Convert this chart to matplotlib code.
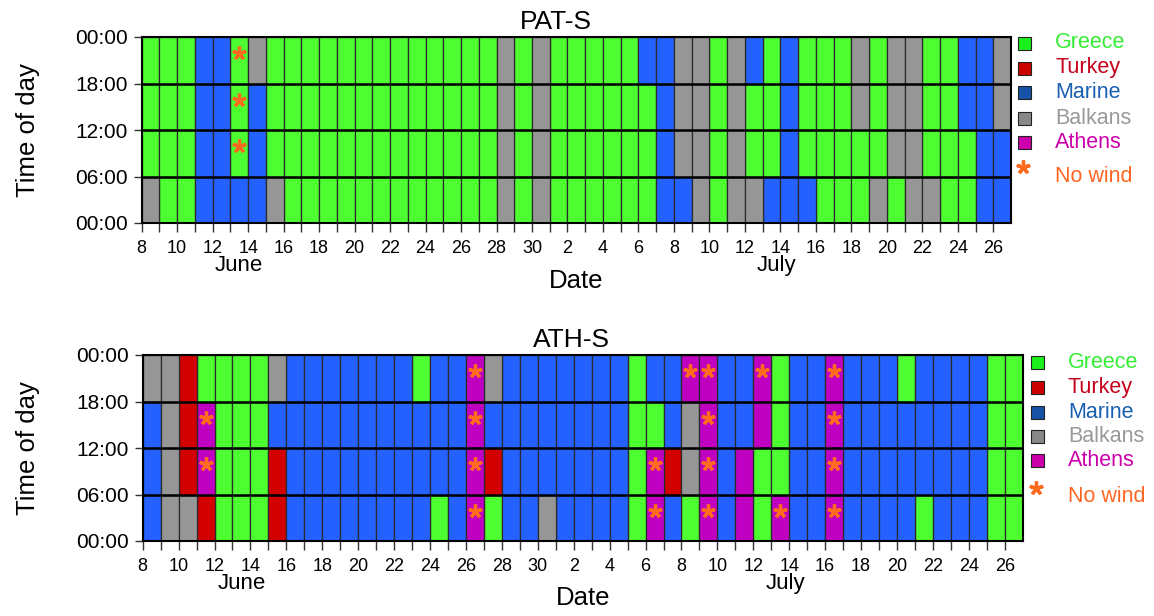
import matplotlib
matplotlib.use('Agg')
import matplotlib.pyplot as plt
from matplotlib.patches import Rectangle
from matplotlib.lines import Line2D

plt.rcParams['font.family'] = ['Liberation Sans', 'DejaVu Sans']

# days on the x axis: 8-30 June, then 1-26 July
june_days = list(range(8, 31))
july_days = list(range(1, 27))
day_labels = june_days + july_days

hour_labels = ['00:00', '06:00', '12:00', '18:00', '00:00']

# air mass origin for each 6-hour block, one letter per day
# G = Greece, T = Turkey, M = Marine, B = Balkans, A = Athens
pat_00 = "BGGMMMMB" "GGGGGGGGGGGG" "BGB" "GGGGGGMMBGBBMMMGGGBGBBGGMM"
pat_06 = "GGGMMGMG" "GGGGGGGGGGGG" "BGB" "GGGGGGMBBGBGGMGGGGGBBGGGMM"
pat_12 = "GGGMMGMG" "GGGGGGGGGGGG" "BGB" "GGGGGGMBBGBGGMGGGBGBBGGMMB"
pat_18 = "GGGMMGBG" "GGGGGGGGGGGG" "BGB" "GGGGGMMBBGBMGMGGGBGBBGGMMB"

ath_00 = "MBBTGGGT" "MMMMMMMM" "GMAGMMB" "MMMMGAMGAMAGAMMA" "MMMMGMMMGG"
ath_06 = "MBTAGGGT" "MMMMMMMMMM" "ATMMM" "MMMMGATBAMAGGMMA" "MMMMMMMMGG"
ath_12 = "MBTAGGGM" "MMMMMMMMMM" "AMMMM" "MMMMGGMBAMMAGMMA" "MMMMMMMMGG"
ath_18 = "BBTGGGGB" "MMMMMMM" "GMMABMMM" "MMMMGMMAAMMAGMMAMMMGMMMMGG"

# no-wind blocks: (month, day, block) with block 0 = 00-06 ... 3 = 18-24
pat_calm = [('Jun', 13, 1), ('Jun', 13, 2), ('Jun', 13, 3)]
ath_calm = [('Jun', 11, 1), ('Jun', 11, 2),
            ('Jun', 26, 0), ('Jun', 26, 1), ('Jun', 26, 2), ('Jun', 26, 3),
            ('Jul', 6, 0), ('Jul', 6, 1), ('Jul', 8, 3),
            ('Jul', 9, 0), ('Jul', 9, 1), ('Jul', 9, 2), ('Jul', 9, 3),
            ('Jul', 12, 3), ('Jul', 13, 0),
            ('Jul', 16, 0), ('Jul', 16, 1), ('Jul', 16, 2), ('Jul', 16, 3)]

region_codes = ['G', 'T', 'M', 'B', 'A']
region_names = ['Greece', 'Turkey', 'Marine', 'Balkans', 'Athens']
cell_colors = ['#4dff30', '#d20000', '#2461ff', '#969696', '#c000c0']
key_colors = ['#1cf01c', '#cc0000', '#1552a8', '#888888', '#cc00aa']
name_colors = ['#33ee33', '#c4001c', '#1a5fb0', '#999999', '#cc00aa']
calm_color = '#ff6a1f'

W, H = 1154, 616


def day_index(month, day):
    if month == 'Jun':
        return june_days.index(day)
    return len(june_days) + july_days.index(day)


def draw_panel(ax, blocks, calm, title, title_x):
    for row, codes in enumerate(blocks):
        for code, color in zip(region_codes, cell_colors):
            xs = [i for i, c in enumerate(codes) if c == code]
            if xs:
                ax.bar(xs, 6, bottom=row * 6, width=1, align='edge',
                       color=color, edgecolor='#2a2a2a', linewidth=0.9)
    for h in (6, 12, 18):
        ax.axhline(h, color='black', lw=1.8, zorder=3)

    xs = [day_index(m, d) + 0.5 for m, d, b in calm]
    ys = [b * 6 + 3.9 for m, d, b in calm]
    ax.plot(xs, ys, ls='none', marker=(5, 2, 0), ms=10, mew=2.4,
            color=calm_color, zorder=4)

    n = len(day_labels)
    ax.set_xlim(0, n)
    ax.set_ylim(0, 24)
    ax.set_xticks(range(0, n, 2), [str(d) for d in day_labels[::2]])
    ax.set_xticks(range(1, n, 2), minor=True)
    ax.set_yticks([0, 6, 12, 18, 24], hour_labels)
    ax.tick_params(axis='x', which='both', length=6.5, width=1,
                   color='#333333', labelsize=13, pad=5.5)
    ax.tick_params(axis='y', length=6, width=1, color='#333333',
                   labelsize=15, pad=4)
    for s in ax.spines.values():
        s.set_linewidth(1.5)

    month_y = -0.228
    ax.text(day_index('Jun', 13) + 0.5, month_y, 'June', fontsize=16,
            ha='center', va='center', transform=ax.get_xaxis_transform())
    ax.text(day_index('Jul', 13) + 0.8, month_y, 'July', fontsize=16,
            ha='center', va='center', transform=ax.get_xaxis_transform())

    ax.set_xlabel('Date', fontsize=18.5, va='center')
    ax.set_ylabel('Time of day', fontsize=18.5, va='center')
    ax.set_title(title, fontsize=19, x=title_x, pad=6)


def draw_key(x_sq, x_txt, ys, y_star, y_nowind):
    for name, kc, nc, y in zip(region_names, key_colors, name_colors, ys):
        fig.add_artist(Rectangle((x_sq / W, 1 - (y + 6.5) / H), 13 / W, 13 / H,
                                 transform=fig.transFigure, facecolor=kc,
                                 edgecolor='#222222', lw=0.8))
        fig.text(x_txt / W, 1 - y / H, name, color=nc, fontsize=15.5,
                 ha='left', va='center')
    fig.add_artist(Line2D([(x_sq + 5) / W], [1 - y_star / H],
                          transform=fig.transFigure, ls='none',
                          marker=(5, 2, 0), ms=10, mew=2.4, color=calm_color))
    fig.text(x_txt / W, 1 - y_nowind / H, 'No wind', color='#ff6622',
             fontsize=15.5, ha='left', va='center')


fig = plt.figure(figsize=(W / 100, H / 100), dpi=100)
ax_pat = fig.add_axes([141.7 / W, 1 - 223 / H, 869.3 / W, 186 / H])
ax_ath = fig.add_axes([142.7 / W, 1 - 541 / H, 880 / W, 186 / H])

draw_panel(ax_pat, [pat_00, pat_06, pat_12, pat_18], pat_calm, 'PAT-S', 0.477)
draw_panel(ax_ath, [ath_00, ath_06, ath_12, ath_18], ath_calm, 'ATH-S', 0.487)

ax_pat.xaxis.set_label_coords(0.5, -(281 - 223) / 186)
ax_ath.xaxis.set_label_coords(0.5, -(598 - 541) / 186)
ax_pat.yaxis.set_label_coords((28 - 141.7) / 869.3, 0.5)
ax_ath.yaxis.set_label_coords((28 - 142.7) / 880, 0.5)

draw_key(1018, 1055, [43, 68, 92, 118, 142], 167, 177)
draw_key(1031, 1068, [362, 387, 412, 436, 460], 488, 497)

fig.savefig('out.png', dpi=100)
